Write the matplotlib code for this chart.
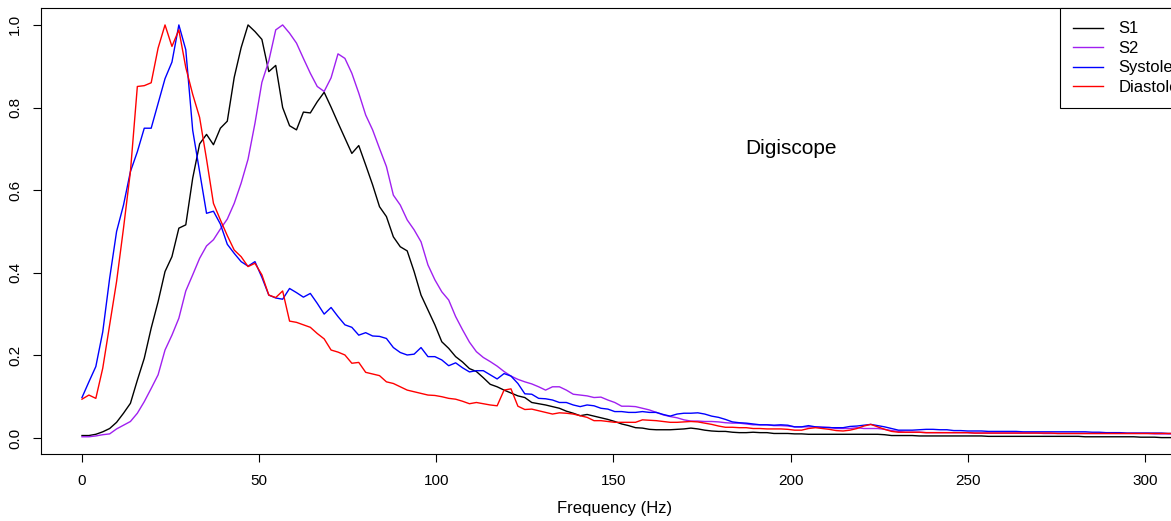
import numpy as np
import matplotlib
matplotlib.use("Agg")
import matplotlib.pyplot as plt

plt.rcParams['font.family'] = ['Liberation Sans', 'DejaVu Sans']

bin_hz = 4000 / 2048

s1 = [
    0.006, 0.006, 0.009, 0.015, 0.023, 0.038, 0.060, 0.084, 0.140, 0.193,
    0.266, 0.330, 0.403, 0.439, 0.508, 0.516, 0.629, 0.712, 0.735, 0.710,
    0.750, 0.767, 0.873, 0.945, 1.000, 0.984, 0.965, 0.887, 0.902, 0.800,
    0.756, 0.746, 0.789, 0.787, 0.814, 0.837, 0.801, 0.763, 0.726, 0.689,
    0.708, 0.661, 0.613, 0.560, 0.536, 0.487, 0.463, 0.453, 0.403, 0.346,
    0.310, 0.274, 0.233, 0.217, 0.197, 0.184, 0.168, 0.161, 0.146, 0.130,
    0.124, 0.116, 0.109, 0.102, 0.098, 0.086, 0.083, 0.080, 0.076, 0.072,
    0.065, 0.060, 0.054, 0.057, 0.053, 0.049, 0.045, 0.040, 0.034, 0.030,
    0.025, 0.024, 0.021, 0.020, 0.020, 0.020, 0.021, 0.022, 0.024, 0.022,
    0.019, 0.017, 0.016, 0.016, 0.014, 0.013, 0.013, 0.014, 0.013, 0.013,
    0.011, 0.011, 0.011, 0.010, 0.010, 0.009, 0.009, 0.009, 0.009, 0.009,
    0.009, 0.009, 0.009, 0.009, 0.009, 0.009, 0.008, 0.006, 0.006, 0.006,
    0.006, 0.005, 0.005, 0.005, 0.005, 0.005, 0.005, 0.005, 0.005, 0.005,
    0.005, 0.004, 0.004, 0.004, 0.004, 0.004, 0.004, 0.004, 0.004, 0.004,
    0.004, 0.004, 0.004, 0.004, 0.004, 0.003, 0.003, 0.003, 0.003, 0.003,
    0.003, 0.003, 0.003, 0.002, 0.002, 0.002, 0.001, 0.001, 0.001, 0.001,
    0.001]

s2 = [
    0.003, 0.003, 0.005, 0.008, 0.010, 0.022, 0.031, 0.040, 0.060, 0.088,
    0.120, 0.153, 0.213, 0.249, 0.290, 0.356, 0.395, 0.435, 0.465, 0.480,
    0.506, 0.530, 0.568, 0.617, 0.675, 0.762, 0.861, 0.913, 0.988, 1.000,
    0.980, 0.956, 0.919, 0.883, 0.851, 0.839, 0.872, 0.930, 0.919, 0.883,
    0.835, 0.782, 0.746, 0.701, 0.657, 0.588, 0.564, 0.528, 0.504, 0.475,
    0.419, 0.383, 0.354, 0.334, 0.294, 0.262, 0.232, 0.209, 0.195, 0.185,
    0.174, 0.161, 0.150, 0.142, 0.136, 0.131, 0.124, 0.116, 0.124, 0.124,
    0.116, 0.106, 0.104, 0.102, 0.098, 0.099, 0.092, 0.086, 0.077, 0.077,
    0.076, 0.072, 0.068, 0.062, 0.056, 0.052, 0.049, 0.044, 0.041, 0.041,
    0.040, 0.040, 0.039, 0.037, 0.036, 0.036, 0.034, 0.032, 0.032, 0.032,
    0.030, 0.030, 0.029, 0.027, 0.027, 0.027, 0.027, 0.026, 0.026, 0.023,
    0.023, 0.023, 0.025, 0.023, 0.023, 0.023, 0.021, 0.018, 0.016, 0.014,
    0.014, 0.014, 0.013, 0.013, 0.013, 0.013, 0.013, 0.013, 0.013, 0.012,
    0.012, 0.012, 0.012, 0.012, 0.012, 0.012, 0.012, 0.012, 0.012, 0.011,
    0.011, 0.011, 0.011, 0.011, 0.011, 0.011, 0.011, 0.011, 0.011, 0.011,
    0.011, 0.011, 0.011, 0.011, 0.011, 0.010, 0.010, 0.010, 0.010, 0.010,
    0.010]

systole = [
    0.098, 0.136, 0.173, 0.257, 0.387, 0.500, 0.564, 0.645, 0.693, 0.750,
    0.750, 0.810, 0.870, 0.910, 1.000, 0.940, 0.745, 0.645, 0.544, 0.549,
    0.518, 0.469, 0.447, 0.427, 0.416, 0.427, 0.389, 0.346, 0.339, 0.336,
    0.362, 0.352, 0.341, 0.350, 0.326, 0.300, 0.316, 0.294, 0.274, 0.268,
    0.249, 0.255, 0.247, 0.246, 0.241, 0.219, 0.207, 0.201, 0.203, 0.219,
    0.197, 0.197, 0.189, 0.175, 0.182, 0.170, 0.160, 0.163, 0.163, 0.153,
    0.143, 0.156, 0.150, 0.132, 0.107, 0.106, 0.096, 0.095, 0.092, 0.086,
    0.086, 0.080, 0.076, 0.080, 0.078, 0.072, 0.070, 0.064, 0.064, 0.062,
    0.062, 0.064, 0.062, 0.062, 0.057, 0.053, 0.058, 0.060, 0.060, 0.061,
    0.058, 0.053, 0.050, 0.045, 0.039, 0.037, 0.036, 0.034, 0.032, 0.032,
    0.031, 0.032, 0.031, 0.027, 0.027, 0.030, 0.027, 0.026, 0.025, 0.025,
    0.025, 0.028, 0.029, 0.031, 0.033, 0.030, 0.027, 0.023, 0.019, 0.019,
    0.019, 0.020, 0.021, 0.021, 0.020, 0.020, 0.018, 0.018, 0.017, 0.017,
    0.017, 0.016, 0.016, 0.016, 0.016, 0.016, 0.015, 0.015, 0.015, 0.015,
    0.015, 0.015, 0.015, 0.015, 0.015, 0.015, 0.014, 0.014, 0.013, 0.013,
    0.013, 0.012, 0.012, 0.012, 0.012, 0.012, 0.012, 0.011, 0.011, 0.011,
    0.011]

diastole = [
    0.094, 0.104, 0.096, 0.169, 0.274, 0.379, 0.508, 0.645, 0.851, 0.853,
    0.860, 0.944, 1.000, 0.948, 0.988, 0.897, 0.832, 0.776, 0.675, 0.568,
    0.528, 0.490, 0.455, 0.439, 0.415, 0.423, 0.395, 0.346, 0.340, 0.356,
    0.283, 0.280, 0.274, 0.268, 0.253, 0.240, 0.213, 0.208, 0.201, 0.181,
    0.183, 0.159, 0.155, 0.151, 0.136, 0.132, 0.124, 0.116, 0.112, 0.108,
    0.104, 0.103, 0.100, 0.096, 0.094, 0.089, 0.083, 0.086, 0.083, 0.080,
    0.078, 0.116, 0.119, 0.077, 0.069, 0.070, 0.066, 0.062, 0.058, 0.061,
    0.060, 0.058, 0.054, 0.050, 0.042, 0.042, 0.040, 0.038, 0.038, 0.038,
    0.038, 0.044, 0.043, 0.042, 0.040, 0.038, 0.038, 0.039, 0.040, 0.039,
    0.036, 0.033, 0.029, 0.026, 0.026, 0.025, 0.025, 0.023, 0.023, 0.022,
    0.022, 0.022, 0.021, 0.019, 0.019, 0.023, 0.025, 0.023, 0.021, 0.018,
    0.017, 0.019, 0.023, 0.029, 0.033, 0.027, 0.021, 0.016, 0.014, 0.014,
    0.014, 0.014, 0.013, 0.013, 0.013, 0.013, 0.013, 0.013, 0.013, 0.012,
    0.012, 0.012, 0.012, 0.012, 0.012, 0.012, 0.012, 0.012, 0.012, 0.012,
    0.012, 0.011, 0.011, 0.011, 0.011, 0.011, 0.011, 0.011, 0.011, 0.011,
    0.011, 0.011, 0.011, 0.011, 0.011, 0.011, 0.011, 0.011, 0.011, 0.011,
    0.011]

series_names = ["S1", "S2", "Systole", "Diastole"]
series_colors = ["black", "#A020F0", "#0000FF", "#FF0000"]
x_ticks = [0, 50, 100, 150, 200, 250, 300]
y_ticks = [0.0, 0.2, 0.4, 0.6, 0.8, 1.0]
y_tick_labels = ["0.0", "0.2", "0.4", "0.6", "0.8", "1.0"]

freq = np.arange(len(s1)) * bin_hz

W, H = 1171, 521
fig = plt.figure(figsize=(W / 100, H / 100), dpi=100)
left_px, right_px, top_px, bot_px = 41, 1188, 8, 454
ax = fig.add_axes([left_px / W, (H - bot_px) / H,
                   (right_px - left_px) / W, (bot_px - top_px) / H])

lines = []
for data, name, col in zip([s1, s2, systole, diastole], series_names, series_colors):
    ln, = ax.plot(freq, data, color=col, lw=1.0, label=name)
    lines.append(ln)

ax.set_xlim(-11.57, 312.2)
ax.set_ylim(-0.0387, 1.041)

for sp in ax.spines.values():
    sp.set_color("black")
    sp.set_linewidth(0.8)

ax.set_xticks(x_ticks)
ax.set_xticklabels([str(t) for t in x_ticks])
ax.set_yticks(y_ticks)
ax.set_yticklabels(y_tick_labels, rotation=90, va="center")
ax.tick_params(direction="out", length=5.5, width=0.8, labelsize=11,
               colors="black")
ax.tick_params(axis="x", pad=9)
ax.tick_params(axis="y", pad=8)

ax.set_xlabel("Frequency (Hz)", fontsize=12, labelpad=9)

ax.text(200, 0.70, "Digiscope", fontsize=15, ha="center", va="center")

leg = ax.legend(handles=lines, labels=series_names, loc="upper left",
                bbox_to_anchor=((1060 - left_px) / (right_px - left_px), 1.0),
                borderaxespad=0, fontsize=12, frameon=True, fancybox=False,
                handlelength=1.8, handletextpad=0.9, labelspacing=0.27,
                borderpad=0.8)
leg.get_frame().set_edgecolor("black")
leg.get_frame().set_linewidth(0.8)
leg.get_frame().set_alpha(1)

fig.savefig("out.png", dpi=100)
